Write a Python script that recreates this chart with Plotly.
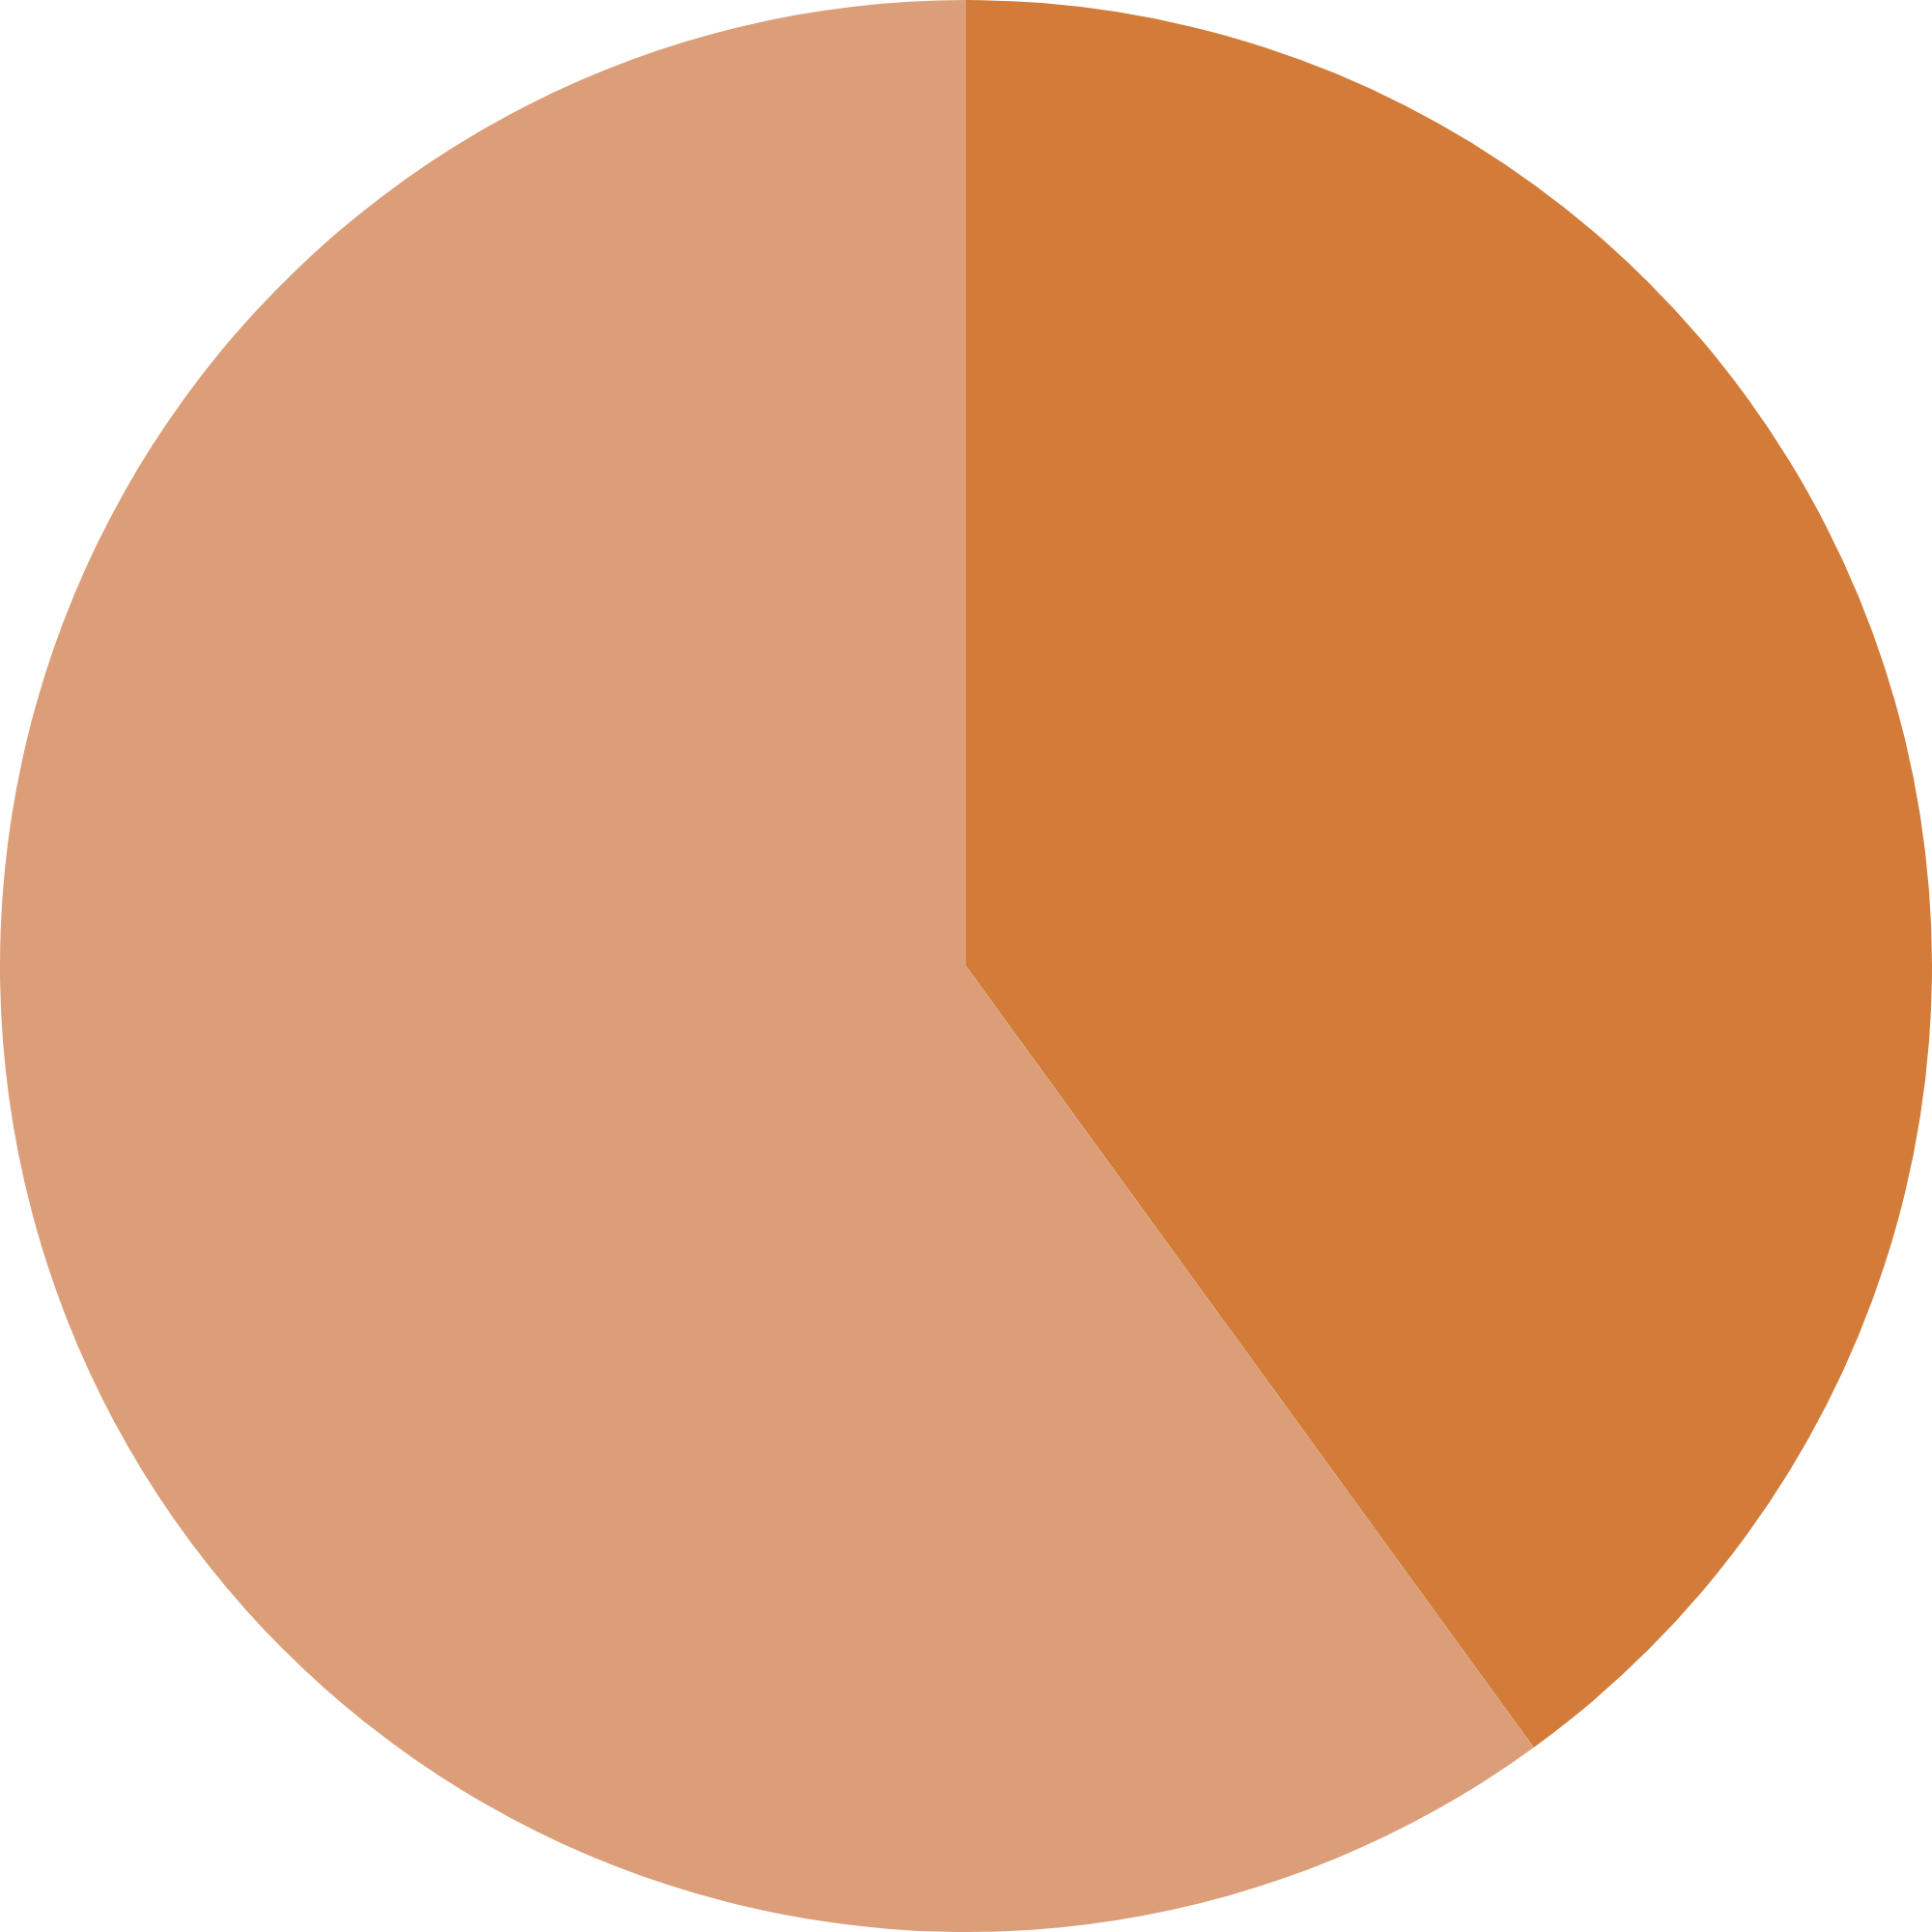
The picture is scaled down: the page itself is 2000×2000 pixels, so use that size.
import plotly.graph_objects as go

# 两块扇形的数据
labels = ["A", "B"]
values = [40, 60]
colors = ["#D37C39", "#DB9E79"]

fig = go.Figure(go.Pie(
    labels=labels,
    values=values,
    sort=False,
    direction="clockwise",
    rotation=0,
    marker=dict(colors=colors, line=dict(width=0)),
    textinfo="none",
    hoverinfo="label+percent",
))
fig.update_layout(
    width=2000, height=2000,
    margin=dict(l=0, r=0, t=0, b=0),
    showlegend=False,
    paper_bgcolor="white",
)
# 去掉浏览器默认的 body 边距，隐藏工具栏
fig.write_html(
    "out.html",
    config={"displayModeBar": False},
    post_script="document.body.style.margin='0';document.body.style.overflow='hidden';",
)
